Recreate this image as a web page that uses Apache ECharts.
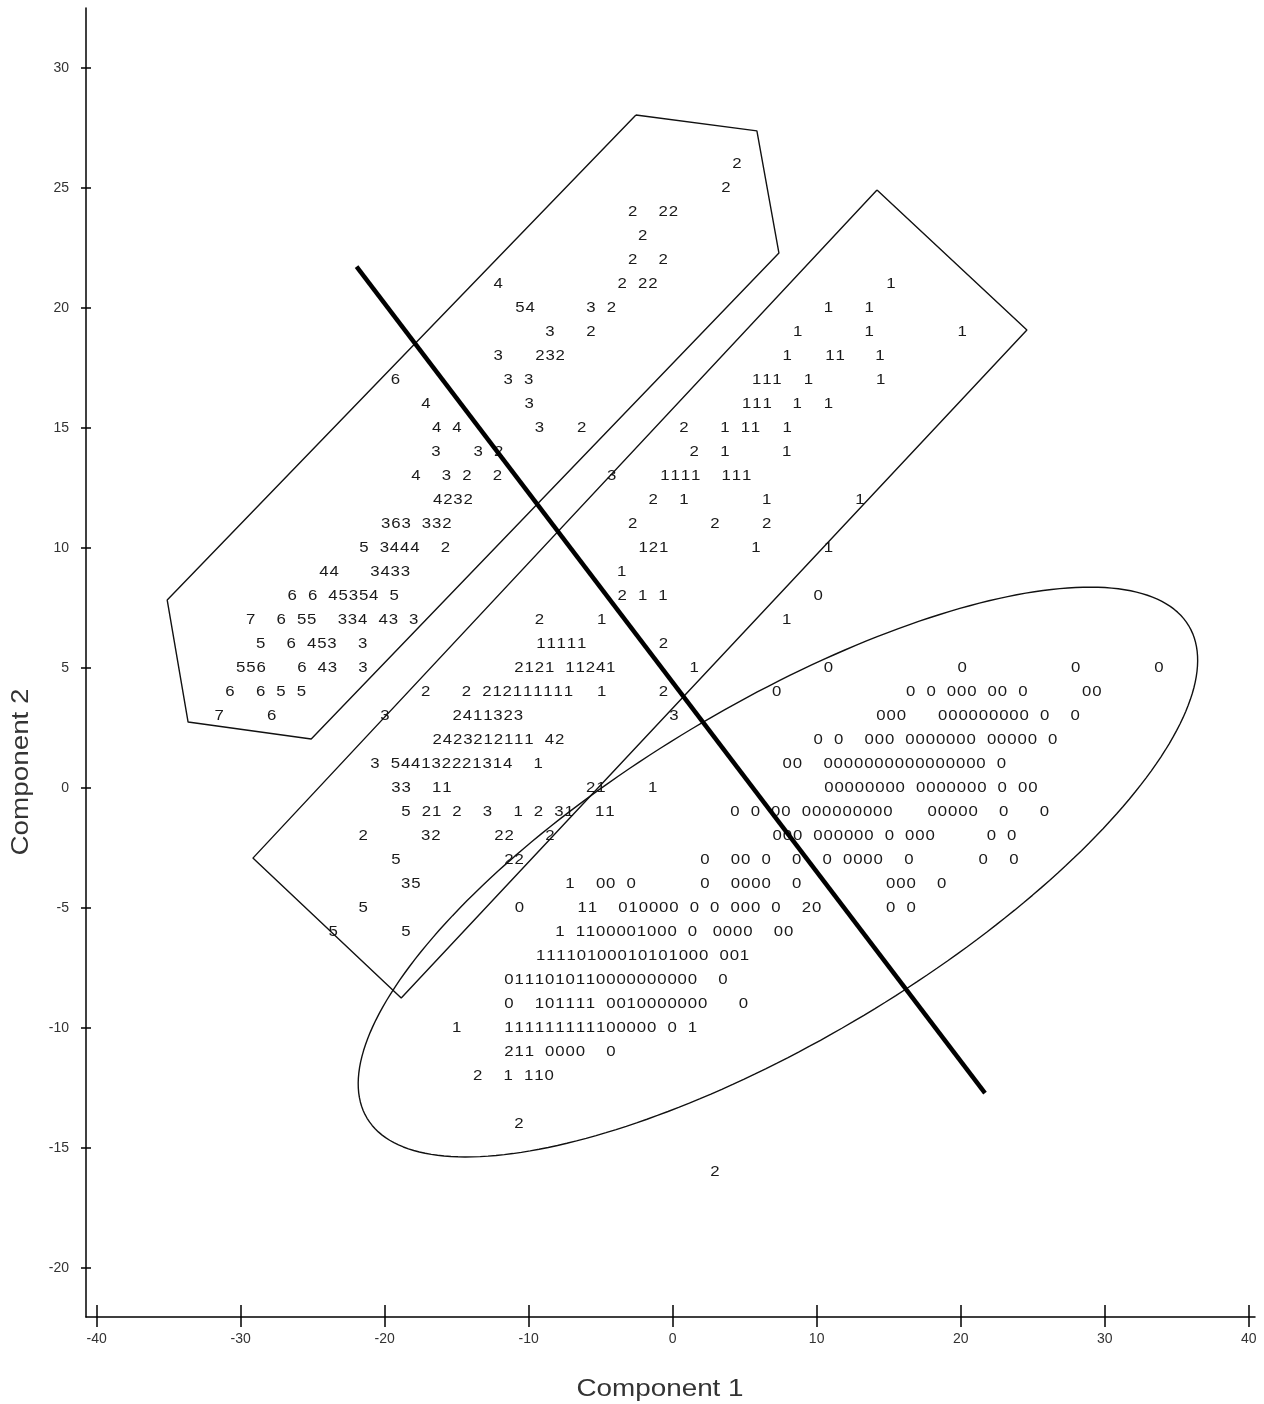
<!DOCTYPE html>
<html>
<head>
<meta charset="utf-8">
<script src="https://cdn.jsdelivr.net/npm/echarts@6/dist/echarts.min.js"></script>
<style>
html,body{margin:0;padding:0;background:#fff;}
#chart{width:1264px;height:1404px;}
</style>
</head>
<body>
<div id="chart"></div>
<script>
// ---- axis ticks ----
const xTicks = [-40, -30, -20, -10, 0, 10, 20, 30, 40];
const yTicks = [-20, -15, -10, -5, 0, 5, 10, 15, 20, 25, 30];

// ---- printed cluster labels: row (Component 2), start (Component 1), text ----
const rowY = [
  26, 25, 24, 23, 22,
  21, 21, 21,
  20, 20, 20, 20,
  19, 19, 19, 19, 19,
  18, 18, 18, 18, 18,
  17, 17, 17, 17, 17,
  16, 16, 16, 16, 16,
  15, 15, 15, 15, 15, 15,
  14, 14, 14, 14, 14,
  13, 13, 13,
  12, 12, 12, 12,
  11, 11, 11, 11,
  10, 10, 10, 10,
  9, 9,
  8, 8, 8,
  7, 7, 7, 7,
  6, 6, 6,
  5, 5, 5, 5, 5, 5, 5,
  4, 4, 4, 4, 4, 4, 4,
  3, 3, 3, 3, 3, 3, 3,
  2, 2,
  1, 1,
  0, 0, 0, 0,
  -1, -1, -1,
  -2, -2, -2, -2, -2,
  -3, -3, -3, -3,
  -4, -4, -4, -4,
  -5, -5, -5, -5,
  -6, -6, -6, -6,
  -7, -8, -9,
  -10, -10,
  -11, -12, -14, -16
];
const rowX = [
  4.47, 3.70, -2.78, -2.08, -2.78,
  -12.11, -3.50, 15.16,
  -10.60, -5.67, 10.81, 13.65,
  -8.52, -5.67, 8.68, 13.65, 20.11,
  -12.11, -9.22, 7.96, 10.92, 14.40,
  -19.26, -11.42, 5.83, 9.42, 14.44,
  -17.13, -9.96, 5.14, 8.65, 10.81,
  -16.39, -9.26, -6.32, 0.78, 3.63, 7.96,
  -16.44, -13.50, 1.50, 3.63, 7.92,
  -17.83, -4.24, -0.53,
  -16.32, -1.35, 6.53, 13.01,
  -19.93, -2.78, 2.94, 6.53,
  -21.44, -2.04, 5.78, 10.81,
  -24.22, -3.54,
  -26.42, -3.50, 10.11,
  -29.31, -9.26, -4.93, 7.92,
  -28.61, -9.15, -0.65,
  -30.00, -10.67, 1.50, 10.81, 20.11, 27.99, 33.77,
  -30.74, -17.15, -4.93, -0.65, 7.22, 16.53, 28.75,
  -31.49, -27.85, -19.98, -14.96, 0.09, 14.47, 18.75,
  -16.35, 10.11,
  -20.67, 7.96,
  -19.22, -5.69, -1.39, 10.85,
  -18.52, 4.33, 18.03,
  -21.49, -17.15, -12.06, -8.52, 7.26,
  -19.22, -11.37, 2.24, 21.57,
  -18.54, -7.13, 2.24, 15.14,
  -21.49, -10.65, -6.28, 15.14,
  -23.57, -18.52, -7.83, 3.10,
  -9.17, -11.37, -11.37,
  -15.00, -11.37,
  -11.37, -13.54, -10.67, 2.94
];
const rowText = [
  "2", "2", "2  22", "2", "2  2",
  "4", "2 22", "1",
  "54", "3 2", "1", "1",
  "3", "2", "1", "1", "1",
  "3", "232", "1", "11", "1",
  "6", "3 3", "111", "1", "1",
  "4", "3", "111", "1", "1",
  "4 4", "3", "2", "2", "1 11", "1",
  "3", "3 2", "2", "1", "1",
  "4  3 2  2", "3", "1111  111",
  "4232", "2  1", "1", "1",
  "363 332", "2", "2", "2",
  "5 3444  2", "121", "1", "1",
  "44   3433", "1",
  "6 6 45354 5", "2 1 1", "0",
  "7  6 55  334 43 3", "2", "1", "1",
  "5  6 453  3", "11111", "2",
  "556   6 43  3", "2121 11241", "1", "0", "0", "0", "0",
  "6  6 5 5", "2   2 212111111", "1", "2", "0", "0 0 000 00 0", "00",
  "7", "6", "3", "2411323", "3", "000", "000000000 0  0",
  "2423212111 42", "0 0  000 0000000 00000 0",
  "3 544132221314  1", "00  0000000000000000 0",
  "33  11", "21", "1", "00000000 0000000 0 00",
  "5 21 2  3  1 2 31  11", "0 0 00 000000000", "00000  0   0",
  "2", "32", "22", "2", "000 000000 0 000     0 0",
  "5", "22", "0  00 0  0  0 0000  0", "0  0",
  "35", "1  00 0", "0  0000  0", "000  0",
  "5", "0", "11  010000 0 0 000 0  20", "0 0",
  "5", "5", "1 1100001000 0", "0000  00",
  "11110100010101000 001", "0111010110000000000  0", "0  101111 0010000000   0",
  "1", "111111111100000 0 1",
  "211 0000  0", "2  1 110", "2", "2"
];
const CHAR_STEP = 0.708; // width of one printed character, Component 1 units

// ---- separating line ----
const splitX = [-21.95, 21.69];
const splitY = [21.72, -12.71];

// ---- hull polygons ----
const hull1X = [-2.55, 5.85, 7.38, -25.1, -33.65, -35.1, -2.55];
const hull1Y = [28.04, 27.38, 22.29, 2.04, 2.75, 7.83, 28.04];
const hull2X = [14.19, 24.6, -18.85, -29.15, 14.19];
const hull2Y = [24.92, 19.08, -8.75, -2.92, 24.92];

// ---- ellipse: centre and conjugate semi-axes ----
const ellipseCenter = [7.31, -3.5];
const ellipseAxisA = [28.53, 10.26];
const ellipseAxisB = [5.97, -5.97];

const FONT = '"Liberation Sans", Arial, Helvetica, sans-serif';

function zip(xs, ys) { return xs.map((x, i) => [x, ys[i]]); }

const ellipseData = [];
for (let k = 0; k <= 240; k++) {
  const t = k / 240 * Math.PI * 2;
  ellipseData.push([
    ellipseCenter[0] + ellipseAxisA[0] * Math.cos(t) + ellipseAxisB[0] * Math.sin(t),
    ellipseCenter[1] + ellipseAxisA[1] * Math.cos(t) + ellipseAxisB[1] * Math.sin(t)
  ]);
}

const chart = echarts.init(document.getElementById('chart'), null, { renderer: 'canvas' });

const xMin = -40.74, xMax = 40.44, yMin = -22.04, yMax = 32.5;
const axisLineStyle = { color: '#000', width: 1.5 };

const option = {
  backgroundColor: '#fff',
  animation: false,
  grid: { left: 86, right: 9, top: 8, bottom: 87, containLabel: false },
  xAxis: [{
    type: 'value', min: xMin, max: xMax, position: 'bottom',
    axisLine: { show: true, onZero: false, lineStyle: axisLineStyle },
    axisTick: { show: true, inside: false, length: 10, customValues: xTicks, lineStyle: axisLineStyle },
    axisLabel: { show: true, customValues: xTicks, margin: 15, color: '#333', fontSize: 14, fontFamily: FONT },
    splitLine: { show: false }
  }, {
    type: 'value', min: xMin, max: xMax, position: 'bottom',
    axisLine: { show: false, onZero: false },
    axisTick: { show: true, inside: true, length: 12, customValues: xTicks, lineStyle: axisLineStyle },
    axisLabel: { show: false },
    splitLine: { show: false }
  }],
  yAxis: [{
    type: 'value', min: yMin, max: yMax, position: 'left',
    axisLine: { show: true, onZero: false, lineStyle: axisLineStyle },
    axisTick: { show: true, inside: false, length: 5, customValues: yTicks, lineStyle: axisLineStyle },
    axisLabel: { show: true, customValues: yTicks, margin: 17, color: '#333', fontSize: 14, fontFamily: FONT },
    splitLine: { show: false }
  }, {
    type: 'value', min: yMin, max: yMax, position: 'left',
    axisLine: { show: false, onZero: false },
    axisTick: { show: true, inside: true, length: 5, customValues: yTicks, lineStyle: axisLineStyle },
    axisLabel: { show: false },
    splitLine: { show: false }
  }],
  graphic: [{
    type: 'text', x: 660, y: 1389, scaleX: 1.16, silent: true,
    style: { text: 'Component 1', align: 'center', verticalAlign: 'middle', fill: '#333', fontSize: 24, fontFamily: FONT }
  }, {
    type: 'text', x: 21, y: 772, rotation: Math.PI / 2, scaleX: 1.16, silent: true,
    style: { text: 'Component 2', align: 'center', verticalAlign: 'middle', fill: '#333', fontSize: 24, fontFamily: FONT }
  }],
  series: [{
    type: 'custom',
    name: 'labels',
    silent: true,
    data: rowY.map((y, i) => [rowX[i], y]),
    encode: { x: 0, y: 1 },
    renderItem: function (params, api) {
      const i = params.dataIndex;
      const txt = rowText[i];
      const children = [];
      for (let k = 0; k < txt.length; k++) {
        const ch = txt[k];
        if (ch === ' ') continue;
        const p = api.coord([rowX[i] + k * CHAR_STEP, rowY[i]]);
        children.push({
          type: 'text', x: p[0], y: p[1], scaleX: 1.2,
          style: { text: ch, x: 0, y: 0, align: 'center', verticalAlign: 'middle', fill: '#1a1a1a', fontSize: 14, fontFamily: FONT }
        });
      }
      return { type: 'group', children: children };
    }
  }, {
    type: 'line', name: 'hull1', silent: true, symbol: 'none',
    data: zip(hull1X, hull1Y),
    lineStyle: { color: '#111', width: 1.4 }
  }, {
    type: 'line', name: 'hull2', silent: true, symbol: 'none',
    data: zip(hull2X, hull2Y),
    lineStyle: { color: '#111', width: 1.4 }
  }, {
    type: 'line', name: 'ellipse', silent: true, symbol: 'none',
    data: ellipseData,
    lineStyle: { color: '#111', width: 1.4 }
  }, {
    type: 'line', name: 'split', silent: true, symbol: 'none',
    data: zip(splitX, splitY),
    lineStyle: { color: '#000', width: 4.5 }
  }]
};
chart.setOption(option);
</script>
</body>
</html>
